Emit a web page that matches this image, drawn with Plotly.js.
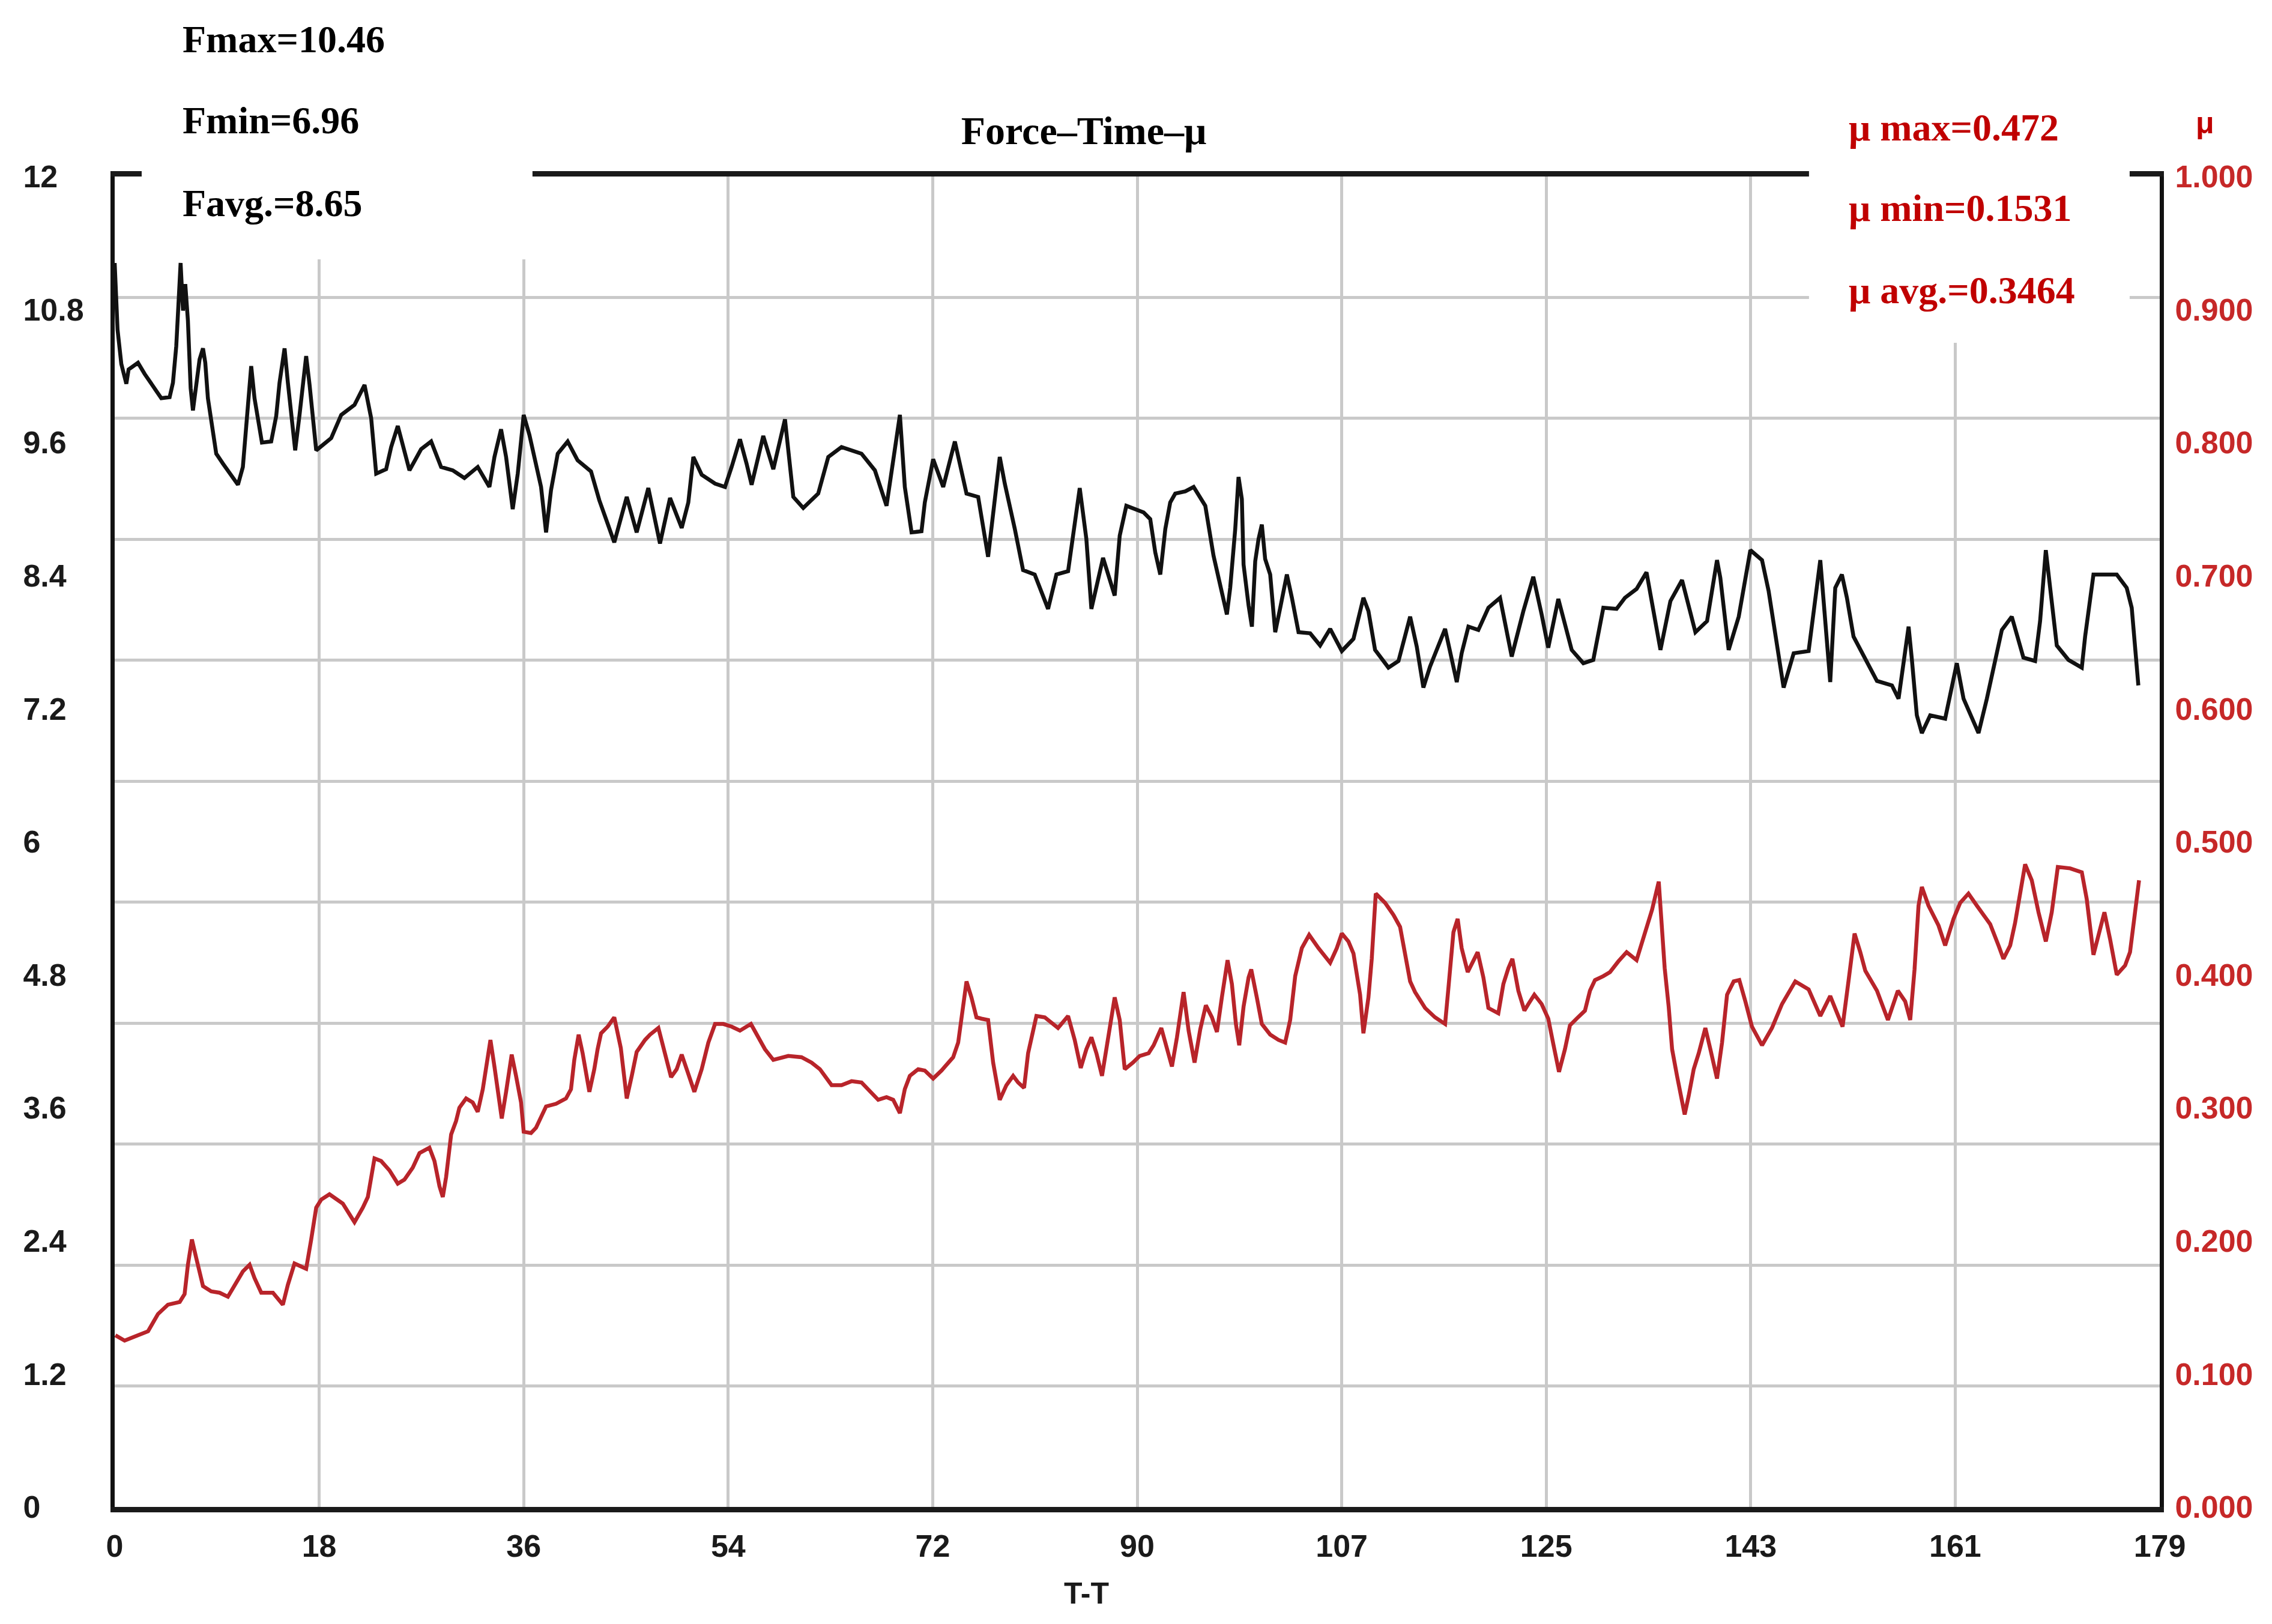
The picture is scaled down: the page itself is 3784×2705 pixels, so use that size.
<!DOCTYPE html>
<html>
<head>
<meta charset="utf-8">
<script src="https://cdn.plot.ly/plotly-3.0.1.min.js"></script>
<style>
  html, body { margin: 0; padding: 0; background: #ffffff; }
  #chart { width: 3784px; height: 2705px; }
</style>
</head>
<body>
<div id="chart"></div>
<script>
// Force vs. time (black curve, left axis)
const forceTime = [0, 0.25, 0.58, 1.02, 1.22, 2.04, 2.62, 4.08, 4.81, 5.10, 5.39, 5.77, 5.98, 6.18, 6.41, 6.65, 6.85, 7.14, 7.43, 7.73, 7.93, 8.16, 8.45, 8.89, 9.48, 10.79, 11.22, 11.52, 11.95, 12.24, 12.89, 13.70, 14.14, 14.43, 14.87, 15.16, 15.45, 15.80, 16.18, 16.76, 17.06, 17.64, 18.95, 19.83, 20.99, 21.87, 22.45, 22.89, 23.76, 24.20, 24.78, 25.22, 25.80, 26.82, 27.70, 28.57, 29.59, 30.61, 31.78, 32.80, 33.24, 33.82, 34.26, 34.84, 35.28, 35.80, 36.30, 37.32, 37.76, 38.19, 38.78, 39.65, 40.52, 41.69, 42.42, 43.73, 44.82, 45.69, 46.71, 47.73, 48.61, 49.63, 50.21, 50.65, 51.38, 52.55, 53.42, 54.00, 54.73, 55.31, 55.75, 56.77, 57.65, 58.67, 59.40, 60.27, 61.58, 62.46, 63.62, 65.37, 66.54, 67.56, 68.29, 68.73, 69.16, 69.75, 70.62, 70.91, 71.64, 72.52, 73.54, 74.56, 75.58, 76.45, 77.47, 77.91, 78.79, 79.51, 80.53, 81.70, 82.43, 83.45, 84.47, 85.05, 85.49, 86.51, 87.53, 87.97, 88.55, 90.06, 90.64, 91.08, 91.52, 91.96, 92.39, 92.83, 93.71, 94.44, 95.46, 96.18, 97.35, 97.64, 98.08, 98.37, 98.66, 98.81, 99.25, 99.54, 99.83, 100.12, 100.41, 100.70, 101.14, 101.58, 102.02, 102.60, 103.04, 103.62, 104.64, 105.51, 106.39, 107.41, 108.43, 109.30, 109.74, 110.32, 111.49, 112.37, 113.39, 113.97, 114.55, 115.13, 116.45, 117.03, 117.47, 117.90, 118.49, 119.36, 120.24, 121.26, 122.28, 123.30, 124.17, 124.90, 125.48, 126.36, 127.53, 128.55, 129.42, 130.30, 131.46, 132.19, 133.21, 134.08, 135.15, 135.30, 136.17, 137.19, 138.36, 139.38, 140.25, 140.54, 141.27, 142.15, 143.17, 144.19, 144.77, 146.08, 146.96, 148.27, 149.29, 149.58, 150.16, 150.60, 151.18, 151.62, 152.20, 154.25, 155.56, 156.14, 156.58, 157.02, 157.31, 157.74, 158.18, 158.91, 160.22, 160.81, 161.24, 161.83, 163.14, 163.87, 165.18, 166.05, 167.07, 168.09, 168.53, 169.03, 169.41, 169.99, 171.01, 172.18, 172.47, 173.20, 175.24, 176.11, 176.55, 177.13];
const forceValues = [11.22, 10.62, 10.31, 10.13, 10.26, 10.32, 10.22, 10.00, 10.01, 10.14, 10.47, 11.22, 10.79, 11.03, 10.70, 10.09, 9.89, 10.12, 10.35, 10.45, 10.32, 10.00, 9.79, 9.50, 9.41, 9.22, 9.38, 9.79, 10.29, 10.00, 9.60, 9.61, 9.84, 10.14, 10.45, 10.14, 9.88, 9.53, 9.85, 10.38, 10.12, 9.53, 9.64, 9.85, 9.94, 10.12, 9.82, 9.32, 9.36, 9.56, 9.75, 9.59, 9.35, 9.54, 9.61, 9.38, 9.35, 9.28, 9.38, 9.20, 9.47, 9.72, 9.47, 9.00, 9.32, 9.85, 9.67, 9.20, 8.79, 9.17, 9.50, 9.61, 9.44, 9.34, 9.08, 8.70, 9.11, 8.79, 9.19, 8.69, 9.10, 8.83, 9.06, 9.47, 9.31, 9.23, 9.20, 9.38, 9.63, 9.41, 9.22, 9.66, 9.36, 9.81, 9.11, 9.01, 9.14, 9.47, 9.56, 9.50, 9.35, 9.03, 9.56, 9.85, 9.20, 8.79, 8.80, 9.06, 9.45, 9.20, 9.61, 9.14, 9.11, 8.57, 9.47, 9.23, 8.82, 8.45, 8.41, 8.10, 8.41, 8.44, 9.19, 8.73, 8.10, 8.56, 8.22, 8.76, 9.03, 8.97, 8.91, 8.61, 8.41, 8.82, 9.06, 9.14, 9.16, 9.20, 9.03, 8.58, 8.05, 8.29, 8.82, 9.29, 9.09, 8.50, 8.13, 7.94, 8.53, 8.73, 8.86, 8.55, 8.41, 7.89, 8.11, 8.41, 8.20, 7.89, 7.88, 7.77, 7.92, 7.72, 7.83, 8.20, 8.08, 7.73, 7.57, 7.63, 8.03, 7.76, 7.39, 7.58, 7.92, 7.64, 7.44, 7.70, 7.94, 7.91, 8.11, 8.20, 7.67, 8.08, 8.39, 8.05, 7.75, 8.19, 7.73, 7.61, 7.64, 8.11, 8.10, 8.20, 8.28, 8.43, 7.82, 7.73, 8.17, 8.36, 7.89, 7.99, 8.54, 8.38, 7.73, 8.03, 8.63, 8.54, 8.26, 7.39, 7.70, 7.72, 8.54, 8.20, 7.44, 8.29, 8.41, 8.20, 7.85, 7.45, 7.41, 7.29, 7.64, 7.94, 7.64, 7.14, 6.98, 7.14, 7.11, 7.41, 7.61, 7.29, 6.98, 7.29, 7.91, 8.03, 7.66, 7.63, 7.99, 8.63, 8.29, 7.77, 7.64, 7.57, 7.85, 8.41, 8.41, 8.29, 8.11, 7.41];

// Friction coefficient vs. time (red curve, right axis)
const muTime = [0.06, 0.87, 1.75, 2.92, 3.79, 4.66, 5.69, 6.12, 6.41, 6.76, 7.14, 7.73, 8.45, 9.18, 9.91, 10.64, 11.22, 11.81, 12.24, 12.83, 13.85, 14.72, 15.16, 15.74, 16.76, 17.20, 17.64, 18.08, 18.80, 19.97, 20.99, 21.72, 22.16, 22.74, 23.32, 24.05, 24.78, 25.36, 26.09, 26.68, 27.55, 27.99, 28.43, 28.72, 29.01, 29.45, 29.88, 30.17, 30.76, 31.34, 31.78, 32.22, 32.51, 32.89, 33.24, 33.53, 33.88, 34.26, 34.75, 35.13, 35.57, 35.80, 36.44, 36.88, 37.76, 38.63, 39.50, 39.94, 40.23, 40.61, 40.96, 41.55, 41.98, 42.27, 42.57, 43.15, 43.73, 44.30, 44.82, 45.26, 45.69, 46.42, 46.86, 47.59, 48.17, 48.70, 49.19, 49.63, 50.07, 50.74, 51.38, 51.96, 52.55, 53.27, 54.00, 54.73, 55.69, 56.33, 56.92, 57.65, 58.96, 60.12, 61.00, 61.73, 62.75, 63.62, 64.50, 65.37, 66.10, 66.83, 67.56, 68.14, 68.73, 69.16, 69.60, 70.33, 70.91, 71.64, 72.37, 73.39, 73.83, 74.12, 74.56, 74.99, 75.43, 75.87, 76.45, 76.89, 77.47, 78.05, 78.64, 79.08, 79.60, 79.95, 80.68, 81.41, 82.57, 83.45, 84.03, 84.56, 85.05, 85.49, 85.93, 86.42, 86.80, 87.18, 87.53, 87.97, 88.41, 89.13, 89.72, 90.50, 90.94, 91.61, 92.10, 92.54, 92.98, 93.27, 93.56, 94.00, 94.52, 95.02, 95.51, 96.04, 96.48, 96.91, 97.41, 97.79, 98.14, 98.43, 98.81, 99.25, 99.48, 99.97, 100.41, 101.14, 101.87, 102.45, 102.89, 103.33, 103.91, 104.55, 105.37, 106.39, 106.97, 107.41, 107.99, 108.43, 109.01, 109.30, 109.74, 110.03, 110.38, 111.20, 111.93, 112.51, 112.95, 113.39, 113.82, 114.70, 115.57, 116.45, 116.74, 117.18, 117.55, 117.90, 118.43, 118.93, 119.30, 119.80, 120.24, 121.11, 121.55, 121.99, 122.34, 122.86, 123.39, 123.74, 124.26, 124.90, 125.48, 125.92, 126.42, 126.94, 127.38, 127.96, 128.69, 129.13, 129.57, 130.30, 130.88, 131.61, 132.34, 133.21, 133.79, 134.57, 135.15, 135.44, 135.67, 136.02, 136.32, 136.75, 137.42, 137.77, 138.21, 138.65, 139.23, 139.67, 140.25, 140.69, 141.13, 141.71, 142.20, 142.73, 143.31, 144.19, 145.06, 145.94, 147.10, 148.27, 149.29, 150.16, 150.75, 151.24, 151.77, 152.29, 152.79, 153.23, 154.25, 155.21, 156.08, 156.72, 157.16, 157.54, 157.89, 158.18, 158.76, 159.64, 160.22, 160.95, 161.53, 162.26, 162.99, 164.16, 164.89, 165.32, 165.91, 166.34, 166.78, 167.22, 167.80, 168.39, 169.03, 169.55, 170.08, 171.16, 172.18, 172.61, 173.20, 173.63, 174.16, 174.65, 175.24, 175.97, 176.40, 176.84, 177.19];
const muValues = [0.129, 0.125, 0.128, 0.132, 0.145, 0.152, 0.154, 0.160, 0.182, 0.201, 0.187, 0.166, 0.162, 0.161, 0.158, 0.168, 0.177, 0.182, 0.172, 0.161, 0.161, 0.152, 0.167, 0.183, 0.179, 0.201, 0.225, 0.231, 0.235, 0.228, 0.214, 0.225, 0.233, 0.262, 0.260, 0.253, 0.243, 0.246, 0.255, 0.266, 0.270, 0.260, 0.241, 0.233, 0.248, 0.280, 0.290, 0.300, 0.307, 0.304, 0.297, 0.314, 0.329, 0.351, 0.331, 0.314, 0.292, 0.312, 0.340, 0.324, 0.304, 0.282, 0.281, 0.285, 0.301, 0.303, 0.307, 0.314, 0.336, 0.355, 0.341, 0.312, 0.329, 0.344, 0.356, 0.361, 0.368, 0.345, 0.307, 0.324, 0.342, 0.351, 0.355, 0.360, 0.341, 0.323, 0.329, 0.340, 0.329, 0.312, 0.329, 0.349, 0.363, 0.363, 0.361, 0.358, 0.363, 0.353, 0.344, 0.336, 0.339, 0.338, 0.334, 0.329, 0.317, 0.317, 0.320, 0.319, 0.313, 0.306, 0.308, 0.306, 0.296, 0.314, 0.324, 0.329, 0.328, 0.322, 0.328, 0.338, 0.349, 0.368, 0.395, 0.383, 0.368, 0.367, 0.366, 0.334, 0.306, 0.317, 0.324, 0.319, 0.315, 0.341, 0.369, 0.368, 0.360, 0.369, 0.351, 0.330, 0.344, 0.353, 0.341, 0.324, 0.344, 0.363, 0.383, 0.366, 0.329, 0.334, 0.339, 0.341, 0.347, 0.360, 0.346, 0.331, 0.353, 0.368, 0.387, 0.358, 0.334, 0.359, 0.377, 0.368, 0.357, 0.383, 0.411, 0.393, 0.363, 0.347, 0.376, 0.398, 0.404, 0.383, 0.363, 0.355, 0.351, 0.349, 0.366, 0.399, 0.420, 0.430, 0.420, 0.409, 0.420, 0.431, 0.425, 0.416, 0.385, 0.356, 0.383, 0.412, 0.461, 0.454, 0.445, 0.436, 0.415, 0.395, 0.387, 0.375, 0.368, 0.363, 0.390, 0.432, 0.442, 0.420, 0.402, 0.410, 0.417, 0.398, 0.375, 0.371, 0.393, 0.405, 0.412, 0.388, 0.373, 0.378, 0.385, 0.378, 0.367, 0.348, 0.327, 0.344, 0.362, 0.367, 0.373, 0.388, 0.396, 0.399, 0.402, 0.410, 0.417, 0.411, 0.427, 0.449, 0.470, 0.437, 0.405, 0.376, 0.344, 0.324, 0.295, 0.309, 0.329, 0.341, 0.360, 0.344, 0.322, 0.349, 0.385, 0.395, 0.396, 0.380, 0.361, 0.347, 0.360, 0.378, 0.395, 0.389, 0.369, 0.384, 0.372, 0.361, 0.396, 0.431, 0.417, 0.403, 0.388, 0.366, 0.388, 0.380, 0.366, 0.404, 0.452, 0.466, 0.452, 0.437, 0.422, 0.442, 0.454, 0.461, 0.452, 0.438, 0.422, 0.412, 0.422, 0.439, 0.461, 0.483, 0.471, 0.447, 0.425, 0.447, 0.481, 0.480, 0.477, 0.457, 0.415, 0.429, 0.447, 0.427, 0.400, 0.407, 0.417, 0.447, 0.471];

// Axis ticks
const timeTickVals = [0, 17.9, 35.8, 53.7, 71.6, 89.5, 107.4, 125.3, 143.2, 161.1, 179];
const timeTickText = ['0', '18', '36', '54', '72', '90', '107', '125', '143', '161', '179'];
const forceTickVals = [0, 1.2, 2.4, 3.6, 4.8, 6, 7.2, 8.4, 9.6, 10.8, 12];
const forceTickText = ['0', '1.2', '2.4', '3.6', '4.8', '6', '7.2', '8.4', '9.6', '10.8', '12'];
const muTickVals = [0, 0.1, 0.2, 0.3, 0.4, 0.5, 0.6, 0.7, 0.8, 0.9, 1.0];
const muTickText = ['0.000', '0.100', '0.200', '0.300', '0.400', '0.500', '0.600', '0.700', '0.800', '0.900', '1.000'];

// Summary texts
const forceStats = ['Fmax=10.46', 'Fmin=6.96', 'Favg.=8.65'];
const muStats = ['\u03bc max=0.472', '\u03bc min=0.1531', '\u03bc avg.=0.3464'];

const RED = '#c00000';
const GRID = '#c9c9c9';
const tickFont = { family: "'Liberation Sans', Arial, sans-serif", size: 52, weight: 'bold', color: '#1a1a1a' };
const serifFont = { family: "'Liberation Serif', 'Times New Roman', serif", size: 64, weight: 'bold', color: '#000000' };

// left labels in the original are flush left: pad on the right with
// no-break spaces (space = dot = half a digit in Liberation Sans)
function padLeftLabel(label, width) {
    const units = [...label].reduce((s, c) => s + (c === '.' ? 1 : 2), 0);
    return label + '\u00a0'.repeat(Math.max(0, width - units));
}
const forceTickPadded = forceTickText.map(t => padLeftLabel(t, 7));

const traces = [
    {
        type: 'scatter', mode: 'lines',
        x: forceTime, y: forceValues,
        xaxis: 'x', yaxis: 'y',
        line: { color: '#111111', width: 6.5 },
        hoverinfo: 'skip', showlegend: false
    },
    {
        type: 'scatter', mode: 'lines',
        x: muTime, y: muValues,
        xaxis: 'x', yaxis: 'y2',
        line: { color: '#b8242a', width: 6.5 },
        hoverinfo: 'skip', showlegend: false
    },
    {
        // carries the separate horizontal grid (11 divisions in the original)
        type: 'scatter', mode: 'lines',
        x: [], y: [],
        xaxis: 'x', yaxis: 'y3',
        hoverinfo: 'skip', showlegend: false
    }
];

const annotations = [];
const statY = [1.1033, 1.0424, 0.9801];
forceStats.forEach((t, i) => {
    annotations.push({
        xref: 'paper', yref: 'paper', x: 0.0326, y: statY[i],
        xanchor: 'left', yanchor: 'middle', showarrow: false,
        text: t, font: serifFont
    });
});
const muY = [1.0370, 0.9761, 0.9147];
muStats.forEach((t, i) => {
    annotations.push({
        xref: 'paper', yref: 'paper', x: 0.8473, y: muY[i],
        xanchor: 'left', yanchor: 'middle', showarrow: false,
        text: t, font: { ...serifFont, color: RED }
    });
});
annotations.push({
    xref: 'paper', yref: 'paper', x: 1.0223, y: 1.0401,
    xanchor: 'center', yanchor: 'middle', showarrow: false,
    text: '\u03bc', font: { ...tickFont, size: 50, color: RED }
});
annotations.push({
    xref: 'paper', yref: 'paper', x: 0.4753, y: -0.065,
    xanchor: 'center', yanchor: 'middle', showarrow: false,
    text: 'T-T', font: { ...tickFont, size: 50 }
});

const layout = {
    width: 3784,
    height: 2705,
    margin: { l: 191, r: 187, t: 294, b: 195, pad: 0 },
    paper_bgcolor: '#ffffff',
    plot_bgcolor: '#ffffff',
    showlegend: false,
    title: {
        text: 'Force\u2013Time\u2013\u03bc',
        font: { ...serifFont, size: 66 },
        xref: 'paper', x: 0.4739, xanchor: 'center',
        yref: 'container', y: 0.9198, yanchor: 'middle'
    },
    xaxis: {
        range: [0, 179],
        tickmode: 'array', tickvals: timeTickVals, ticktext: timeTickText,
        ticks: '', tickfont: tickFont, ticklabelstandoff: 12,
        showgrid: true, gridcolor: GRID, gridwidth: 5,
        zeroline: false,
        showline: true, linecolor: '#1a1a1a', linewidth: 9, mirror: true
    },
    yaxis: {
        range: [0, 12],
        tickmode: 'array', tickvals: forceTickVals, ticktext: forceTickPadded,
        ticks: '', tickfont: tickFont, ticklabelstandoff: 34,
        showgrid: false, zeroline: false,
        showline: true, linecolor: '#111111', linewidth: 7
    },
    yaxis2: {
        overlaying: 'y', side: 'right',
        range: [0, 1],
        tickmode: 'array', tickvals: muTickVals, ticktext: muTickText,
        ticks: '', tickfont: { ...tickFont, color: '#c62828' }, ticklabelstandoff: 8,
        showgrid: false, zeroline: false,
        showline: true, linecolor: '#111111', linewidth: 7
    },
    yaxis3: {
        overlaying: 'y',
        range: [0, 11], dtick: 1,
        showticklabels: false, ticks: '',
        showgrid: true, gridcolor: GRID, gridwidth: 5,
        zeroline: false, showline: false
    },
    shapes: [
        // white panels behind the summary texts, hiding frame and grid
        { type: 'rect', xref: 'paper', yref: 'paper', x0: 0.0132, x1: 0.2043, y0: 0.9377, y1: 1.13,
          fillcolor: '#ffffff', line: { width: 0 }, layer: 'above' },
        { type: 'rect', xref: 'paper', yref: 'paper', x0: 0.8285, x1: 0.9853, y0: 0.875, y1: 1.10,
          fillcolor: '#ffffff', line: { width: 0 }, layer: 'above' }
    ],
    annotations: annotations
};

Plotly.newPlot('chart', traces, layout, { displayModeBar: false, staticPlot: true });
</script>
</body>
</html>
